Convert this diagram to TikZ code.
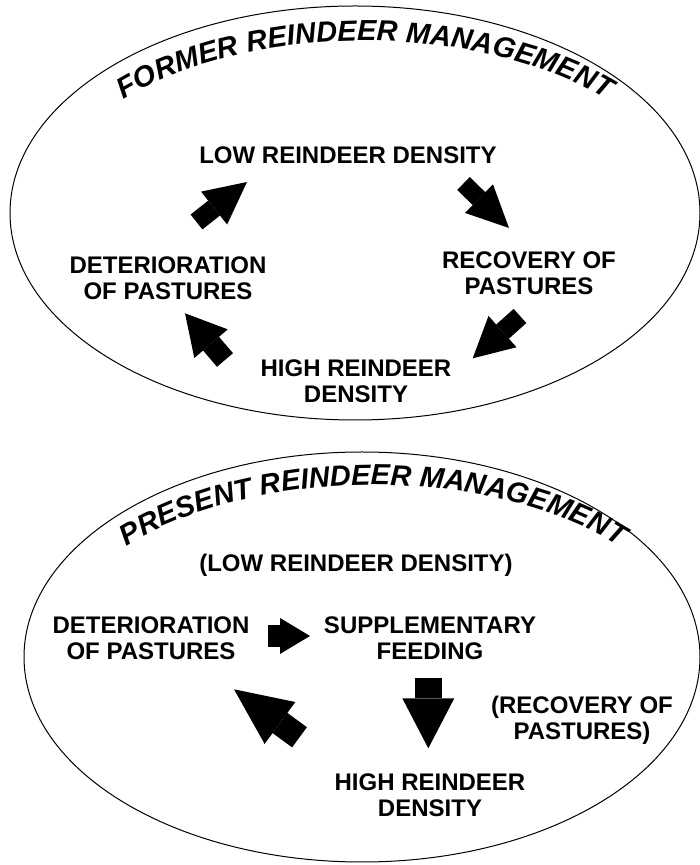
\documentclass[tikz,border=0pt]{standalone}
\usepackage{fontspec}
\setmainfont{Liberation Sans}
\usetikzlibrary{arrows.meta,decorations.text}

\newcommand{\titlefont}{\bfseries\itshape\fontsize{29}{29}\selectfont}
% (from, to, shaft width, head length, head width)
\newcommand{\blockarrow}[5]{
    \draw[line width=#3pt, -{Triangle[length=#4pt, width=#5pt, line width=0pt]}]
      (#1) -- (#2);
}
% (centre, start angle, text)
\newcommand{\arctitle}[3]{
    \path[decorate, decoration={text along path, text align=center,
      text={|\titlefont|#3}}]
      (#1) ++(#2:322 and 172) arc[start angle=#2, end angle={180-#2}, x radius=322, y radius=172];
}

\begin{document}
\begin{tikzpicture}[x=1pt, y=1pt,
    lbl/.style={font=\bfseries\fontsize{24}{26}\selectfont, align=center, inner sep=0pt},
    ring/.style={draw, line width=1pt}]
  \useasboundingbox (0,0) rectangle (700,865);

  % former management
  \coordinate (fc) at (355,652);
  \draw[ring] (fc) ellipse [x radius=345, y radius=207];
  \coordinate (ft) at (365,652);
  \arctitle{ft}{150}{FORMER REINDEER MANAGEMENT}

  \node[lbl] (flow) at (348,710) {LOW REINDEER DENSITY};
  \node[lbl] (fdet) at (168,586.5) {DETERIORATION\\OF PASTURES};
  \node[lbl] (frec) at (529,591.5) {RECOVERY OF\\PASTURES};
  \node[lbl] (fhigh) at (356,483.5) {HIGH REINDEER\\DENSITY};

  \coordinate (f1a) at (196.5,643);  \coordinate (f1b) at (247,683);
  \coordinate (f2a) at (463.5,681.5); \coordinate (f2b) at (509,637);
  \coordinate (f3a) at (520,549);    \coordinate (f3b) at (472.7,506.7);
  \coordinate (f4a) at (225,505);    \coordinate (f4b) at (185,551.7);
  \blockarrow{f1a}{f1b}{19}{42}{42}
  \blockarrow{f2a}{f2b}{18}{42}{40}
  \blockarrow{f3a}{f3b}{19}{40}{42}
  \blockarrow{f4a}{f4b}{21}{40}{44}

  % present management
  \coordinate (pc) at (362,208);
  \draw[ring] (pc) ellipse [x radius=338, y radius=205];
  \coordinate (pt) at (373,208);
  \arctitle{pt}{150}{PRESENT REINDEER MANAGEMENT}

  \node[lbl] (plow) at (356,300) {(LOW REINDEER DENSITY)};
  \node[lbl] (pdet) at (151,227) {DETERIORATION\\OF PASTURES};
  \node[lbl] (psup) at (430,227) {SUPPLEMENTARY\\FEEDING};
  \node[lbl] (prec) at (582,144.5) {(RECOVERY OF\\PASTURES)};
  \node[lbl] (phigh) at (430,70) {HIGH REINDEER\\DENSITY};

  \coordinate (p1a) at (268,229);     \coordinate (p1b) at (310,229);
  \coordinate (p2a) at (428.3,186.7); \coordinate (p2b) at (428.3,116.7);
  \coordinate (p3a) at (299.5,127.7); \coordinate (p3b) at (234,175.7);
  \blockarrow{p1a}{p1b}{22}{30}{36}
  \blockarrow{p2a}{p2b}{27}{50}{52}
  \blockarrow{p3a}{p3b}{25}{57}{52}

\end{tikzpicture}
\end{document}
